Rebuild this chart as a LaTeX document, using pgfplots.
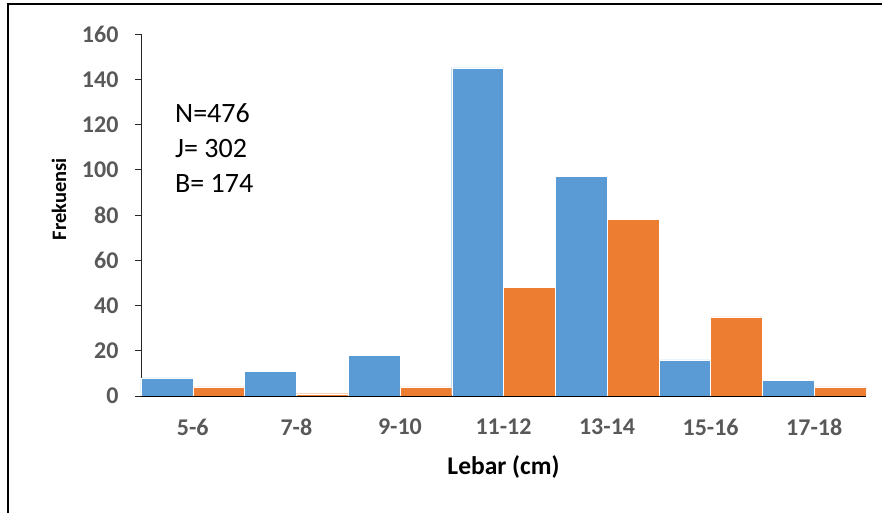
\documentclass[border=0pt]{standalone}
\usepackage{fontspec}
\setmainfont{Carlito}
\usepackage{pgfplots}
\pgfplotsset{compat=1.18}

\definecolor{jblue}{HTML}{5B9BD5}
\definecolor{borange}{HTML}{ED7D31}
\definecolor{tickgray}{HTML}{595959}

\begin{document}
\begin{tikzpicture}
\useasboundingbox (0,0) rectangle (883pt,513pt);
% outer frame (top and left only)
\draw[line width=2pt] (8.3pt,0) -- (8.3pt,508.5pt) -- (882pt,508.5pt);

\begin{axis}[
  at={(141pt,117pt)}, anchor=south west,
  width=725pt, height=362pt, scale only axis,
  ybar=0pt, bar width=0.5,
  xmin=-0.5, xmax=6.5,
  ymin=0, ymax=160,
  xtick=data,
  xticklabels={5-6,7-8,9-10,11-12,13-14,15-16,17-18},
  ytick={0,20,...,160},
  axis x line=bottom, axis y line=left,
  x axis line style={-, black, line width=1.3pt},
  y axis line style={-, black!85, line width=0.8pt},
  tick align=outside,
  xtick style={draw=none},
  ytick style={black!85, line width=0.8pt},
  major tick length=6pt,
  /pgf/number format/assume math mode=true,
  tick label style={font=\bfseries\fontsize{24}{28}\selectfont, text=tickgray},
  xticklabel style={anchor=center, yshift=-25pt},
  yticklabel style={anchor=east, xshift=-13pt},
  xlabel={Lebar (cm)},
  ylabel={Frekuensi},
  xlabel style={font=\bfseries\fontsize{25.5}{30}\selectfont, text=black,
                at={(axis description cs:0.5,-0.196)}, anchor=center},
  ylabel style={font=\bfseries\fontsize{20.5}{24}\selectfont, text=black,
                at={(axis description cs:-0.113,0.544)}, anchor=center, rotate=0},
]
\addplot[fill=jblue, draw=white, line width=0.4pt] coordinates {
  (0,8) (1,11) (2,18) (3,145) (4,97) (5,16) (6,7)};
\addplot[fill=borange, draw=white, line width=0.4pt] coordinates {
  (0,4) (1,1) (2,4) (3,48) (4,78) (5,35) (6,4)};
\end{axis}

\node[anchor=north west, align=left, inner sep=0pt,
      font=\fontsize{28}{35}\selectfont]
  at (175pt,410pt) {N=476\\J= 302\\B= 174};
\end{tikzpicture}
\end{document}
